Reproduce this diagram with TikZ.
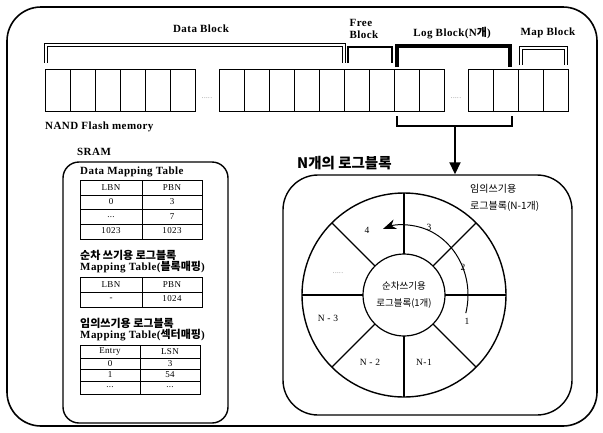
\documentclass[tikz,border=0pt]{standalone}
\usepackage{fontspec}
\setmainfont{Liberation Serif}[LetterSpace=4]
\newfontfamily\kr{Noto Sans CJK KR}
\usetikzlibrary{arrows.meta}

\newcommand{\tdots}{...}

\tikzset{
  cell/.style={draw, line width=1pt},
  hollow/.style={double, double distance=1.8pt, line width=0.7pt},
  lbl/.style={font=\bfseries\fontsize{11}{12}\selectfont, inner sep=0pt},
  tcell/.style={font=\fontsize{9}{10}\selectfont, inner sep=0pt},
  ringlbl/.style={font=\fontsize{9.5}{10}\selectfont, inner sep=0pt},
  dotlbl/.style={font=\fontsize{5}{6}\selectfont, inner sep=0pt},
}

\begin{document}
\begin{tikzpicture}[x=1pt,y=-1pt]
\useasboundingbox (0,0) rectangle (603,432);
% outer frame
\draw[line width=1.6pt, rounded corners=34] (7,7) rectangle (597,426);

% NAND flash blocks
\foreach \x in {45,70,...,170}
    \draw[cell] (\x,69) rectangle ++(25,42);
\foreach \x in {219,244,...,419}
    \draw[cell] (\x,69) rectangle ++(25,42);
\foreach \x in {468,493,518,543}
    \draw[cell] (\x,69) rectangle ++(25,42);
\node[dotlbl] (dotsa) at (207,98) {.\,.\,.\,.\,.};
\node[dotlbl] (dotsb) at (456,98) {.\,.\,.\,.\,.};

% brackets over the blocks
\draw[hollow] (46,63) |- (344,45) -- (344,63);
\draw[line width=2.2pt] (348,63) |- (392,47) -- (392,63);
\draw[line width=4pt] (397,67) |- (510,46) -- (510,67);
\draw[hollow] (521,65) |- (566,48) -- (566,65);

\node[lbl] (datalbl) at (201,29) {Data Block};
\node[lbl, align=left] (freelbl) at (364,29) {Free\\Block};
\node[lbl] (loglbl) at (452,33) {Log Block(N{\kr 개})};
\node[lbl] (maplbl) at (548,33) {Map Block};
\node[lbl, anchor=west] (nandlbl) at (45,127) {NAND Flash memory};

% log blocks -> ring
\draw[line width=2pt] (397,116) |- (512,126) -- (512,116);
\coordinate (logmid) at (455,126);
\node[draw, line width=1.4pt, rounded corners=35, minimum width=289pt,
      minimum height=240pt] (ringbox) at (427.5,295) {};
\draw[-{Triangle[length=12pt,width=11pt]}, line width=1.8pt]
    (logmid) -- (logmid |- ringbox.north);
\node[font=\kr\bfseries\fontsize{14.5}{17}\selectfont, anchor=west, inner sep=0pt]
    (ringtitle) at (297,163) {N개의 로그블록};

% ring of log blocks
\coordinate (ctr) at (404,295);
\draw[line width=1.4pt] (ctr) circle[radius=102];
\node[draw, circle, line width=1.2pt, minimum size=82pt, inner sep=0pt, align=center,
      font=\kr\fontsize{9.5}{17}\selectfont] (seqblk) at (ctr) {순차쓰기용\\로그블록(1개)};
\foreach \a in {0,45,...,315}
    \draw[line width=1.2pt] (ctr) ++(\a:41) -- ++(\a:61);
\draw[line width=1pt, -{Stealth[length=13pt,width=10pt]}]
    (465.8,313.1) arc[start angle=-15, end angle=109, x radius=64pt, y radius=70pt];
\node[ringlbl] (sec1) at (467,321) {1};
\node[ringlbl] (sec2) at (463,267) {2};
\node[ringlbl] (sec3) at (429,227) {3};
\node[ringlbl] (sec4) at (367,230) {4};
\node[dotlbl] (secdots) at (338,273) {.\,.\,.\,.\,.};
\node[ringlbl] (secn3) at (328,318) {N - 3};
\node[ringlbl] (secn2) at (370,362) {N - 2};
\node[ringlbl] (secn1) at (424,362) {N-1};
\node[font=\kr\fontsize{10}{17}\selectfont, align=left, anchor=west, inner sep=0pt]
    (randlbl) at (470,198) {임의쓰기용\\로그블록(N-1개)};

% SRAM tables
\node[lbl, anchor=west] (sramlbl) at (77,152) {SRAM};
\draw[line width=1.4pt, rounded corners=16] (63,162) rectangle (228,423);

\node[lbl, anchor=west] (datamap) at (80,172) {Data Mapping Table};
\draw[line width=0.8pt] (80,180) rectangle (202,239);
\draw[line width=0.8pt] (142,180) -- (142,239);
\foreach \y in {195,209,224}
    \draw[line width=0.8pt] (80,\y) -- (202,\y);
\foreach \y/\a/\b in {188/LBN/PBN, 202/0/3, 217/\tdots/7, 231/1023/1023} {
    \node[tcell] (da\y) at (111,\y) {\a};
    \node[tcell] (db\y) at (172,\y) {\b};
}

\node[lbl, anchor=west] (seqmapa) at (80,255) {{\kr 순차 쓰기용 로그블록}};
\node[lbl, anchor=west] (seqmapb) at (80,267) {Mapping Table({\kr 블록매핑})};
\draw[line width=0.8pt] (80,277) rectangle (202,307);
\draw[line width=0.8pt] (142,277) -- (142,307);
\draw[line width=0.8pt] (80,292) -- (202,292);
\foreach \y/\a/\b in {285/LBN/PBN, 299/-/1024} {
    \node[tcell] (sa\y) at (111,\y) {\a};
    \node[tcell] (sb\y) at (172,\y) {\b};
}

\node[lbl, anchor=west] (randmapa) at (80,323) {{\kr 임의쓰기용 로그블록}};
\node[lbl, anchor=west] (randmapb) at (80,335) {Mapping Table({\kr 섹터매핑})};
\draw[line width=0.8pt] (80,345) rectangle (200,394);
\draw[line width=0.8pt] (140,345) -- (140,394);
\foreach \y in {358,369,381}
    \draw[line width=0.8pt] (80,\y) -- (200,\y);
\foreach \y/\a/\b in {352/Entry/LSN, 364/0/3, 375/1/54, 387/\tdots/\tdots} {
    \node[tcell] (ra\y) at (110,\y) {\a};
    \node[tcell] (rb\y) at (170,\y) {\b};
}
\end{tikzpicture}
\end{document}
